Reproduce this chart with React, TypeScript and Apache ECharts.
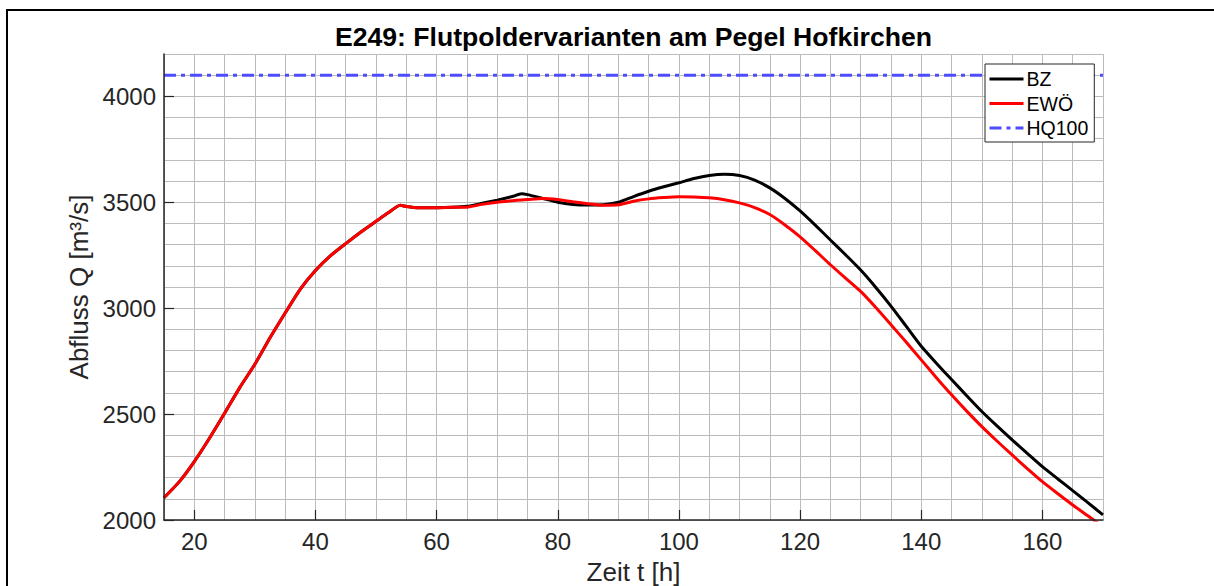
import React, { useEffect, useRef } from "react";
import * as echarts from "echarts";

const hours = [15, 17.5, 20, 22.5, 25, 27.5, 30, 32.5, 35, 37.5, 40, 42.5, 45, 47.5, 50, 52, 54, 55, 57, 60, 62.5, 65, 67.5, 70, 72.5, 74, 75, 77.5, 80, 82.5, 85, 87.5, 90, 92.5, 95, 97.5, 100, 102.5, 105, 107.5, 110, 112.5, 115, 117.5, 120, 122.5, 125, 127.5, 130, 132.5, 135, 137.5, 140, 142.5, 145, 147.5, 150, 152.5, 155, 157.5, 160, 162.5, 165, 167.5, 170];

const bz = [2105, 2180, 2276, 2386, 2504, 2625, 2735, 2860, 2977, 3090, 3178, 3248, 3305, 3360, 3410, 3450, 3486, 3480, 3474, 3474, 3476, 3481, 3495, 3510, 3527, 3540, 3536, 3518, 3500, 3490, 3487, 3488, 3500, 3527, 3552, 3573, 3592, 3612, 3626, 3632, 3626, 3605, 3568, 3518, 3459, 3392, 3322, 3252, 3180, 3098, 3010, 2915, 2820, 2740, 2663, 2587, 2512, 2444, 2378, 2315, 2252, 2195, 2139, 2082, 2024];

const ewo = [2105, 2180, 2276, 2386, 2504, 2625, 2735, 2860, 2977, 3090, 3178, 3248, 3305, 3360, 3410, 3450, 3486, 3480, 3474, 3474, 3476, 3477, 3490, 3500, 3507, 3511, 3513, 3518, 3513, 3502, 3493, 3486, 3488, 3505, 3516, 3522, 3526, 3525, 3521, 3512, 3497, 3475, 3442, 3393, 3337, 3272, 3205, 3142, 3079, 3003, 2922, 2840, 2756, 2672, 2591, 2514, 2441, 2373, 2307, 2243, 2181, 2125, 2071, 2020, 1968];

const hq100 = 4100;
const xTicks = [20, 40, 60, 80, 100, 120, 140, 160];
const yTicks = [2000, 2500, 3000, 3500, 4000];

const TEXT = "#262626";
const GRID = "#bcbcbc";
const W = 1214;
const H = 586;

export default function App() {
  const ref = useRef<HTMLDivElement>(null);
  useEffect(() => {
    if (!ref.current) return;
    const chart = echarts.init(ref.current, null, { renderer: "svg", width: W, height: H });
    const font = "'Liberation Sans', Arial, Helvetica, sans-serif";
    const gridAxisBase = {
      type: "value",
      axisLine: { show: false },
      axisTick: { show: false },
      axisLabel: { show: false },
      splitLine: { show: true, lineStyle: { color: GRID, width: 1 } },
      z: 0,
    };
    chart.setOption({
      animation: false,
      backgroundColor: "#ffffff",
      textStyle: { fontFamily: font },
      title: {
        text: "E249: Flutpoldervarianten am Pegel Hofkirchen",
        left: 633.5,
        textAlign: "center",
        top: 23,
        padding: 0,
        textStyle: { fontFamily: font, fontSize: 26.6, fontWeight: "bold", color: "#000" },
      },
      graphic: [
        {
          type: "rect",
          shape: { x: 7, y: 10, width: 1230, height: 600 },
          style: { fill: "none", stroke: "#000", lineWidth: 2 },
          silent: true,
          z: 100,
        },
      ],
      legend: {
        orient: "vertical",
        left: 985,
        top: 64,
        padding: [5, 6, 4, 3],
        itemGap: 4.5,
        itemWidth: 34,
        itemHeight: 14,
        backgroundColor: "#fff",
        borderColor: "#262626",
        borderWidth: 1,
        borderRadius: 0,
        itemStyle: { opacity: 0 },
        lineStyle: { width: 3 },
        textStyle: { fontFamily: font, fontSize: 19.5, color: "#000", padding: [0, 0, 0, -2] },
        data: ["BZ", "EWÖ", "HQ100"],
      },
      grid: { left: 164, top: 54, right: 111, bottom: 66, containLabel: false, outerBoundsMode: "none" },
      xAxis: [
        {
          type: "value",
          min: 15,
          max: 170,
          interval: 5,
          name: "Zeit t [h]",
          nameLocation: "middle",
          nameGap: 39,
          nameTextStyle: { fontFamily: font, fontSize: 26, lineHeight: 26, color: TEXT },
          axisLine: { show: true, onZero: false, lineStyle: { color: TEXT, width: 1.5 } },
          axisTick: { show: true, inside: true, length: 10, customValues: xTicks, lineStyle: { color: TEXT, width: 1.2 } },
          axisLabel: { customValues: xTicks, fontFamily: font, fontSize: 24, color: TEXT, margin: 9, formatter: (v: number) => String(v) },
          splitLine: { show: false },
          z: 5,
        },
        { ...gridAxisBase, min: 15, max: 170, interval: 5 },
      ],
      yAxis: [
        {
          type: "value",
          min: 2000,
          max: 4200,
          interval: 100,
          name: "Abfluss Q [m³/s]",
          nameLocation: "middle",
          nameGap: 44,
          nameTextStyle: { fontFamily: font, fontSize: 26, color: TEXT },
          axisLine: { show: true, onZero: false, lineStyle: { color: TEXT, width: 1.5 } },
          axisTick: { show: true, inside: true, length: 10, customValues: yTicks, lineStyle: { color: TEXT, width: 1.2 } },
          axisLabel: { customValues: yTicks, fontFamily: font, fontSize: 24, color: TEXT, margin: 8, formatter: (v: number) => String(v) },
          splitLine: { show: false },
          z: 5,
        },
        { ...gridAxisBase, min: 2000, max: 4200, interval: 100 },
      ],
      series: [
        {
          name: "BZ",
          type: "line",
          data: hours.map((h, i) => [h, bz[i]]),
          symbol: "none",
          smooth: 0.2,
          lineStyle: { color: "#000", width: 3 },
          itemStyle: { color: "#000" },
          clip: true,
          z: 3,
        },
        {
          name: "EWÖ",
          type: "line",
          data: hours.map((h, i) => [h, ewo[i]]),
          symbol: "none",
          smooth: 0.2,
          lineStyle: { color: "#ff0000", width: 3 },
          itemStyle: { color: "#ff0000" },
          clip: true,
          z: 4,
        },
        {
          name: "HQ100",
          type: "line",
          data: [[15, hq100], [170, hq100]],
          symbol: "none",
          lineStyle: { color: "#4d4dff", width: 3, type: [12, 5, 4, 5] },
          itemStyle: { color: "#4d4dff" },
          z: 2,
        },
      ],
    });
    return () => chart.dispose();
  }, []);
  return (
    <div
      ref={ref}
      style={{ position: "absolute", left: 0, top: 0, width: W, height: H, background: "#fff", overflow: "hidden" }}
    />
  );
}
